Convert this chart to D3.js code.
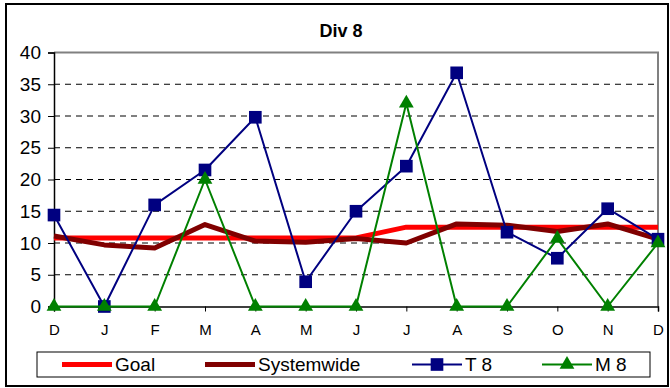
<!DOCTYPE html>
<html>
<head>
<meta charset="utf-8">
<script src="https://cdn.jsdelivr.net/npm/d3@7/dist/d3.min.js"></script>
<style>
  body { margin: 0; background: #fff; }
  svg { display: block; font-family: Arial, "Liberation Sans", sans-serif; }
</style>
</head>
<body>
<svg id="chart" width="670" height="388"></svg>
<script>
(function(){
    // data
    var months = ['D','J','F','M','A','M','J','J','A','S','O','N','D'];
    var yTicks = [0,5,10,15,20,25,30,35,40];
    var goal = [10.8,10.8,10.8,10.8,10.8,10.8,10.8,12.5,12.5,12.5,12.5,12.5,12.5];
    var systemwide = [11.1,9.7,9.2,12.9,10.3,10.1,10.7,10.0,13.0,12.8,11.8,13.0,10.6];
    var t8 = [14.4,0,16.0,21.5,29.8,3.9,15.0,22.1,36.8,11.7,7.6,15.4,10.6];
    var m8 = [0,0,0,20.0,0,0,0,32.0,0,0,10.7,0,10.0];

    var svg = d3.select('#chart');
    var left = 54, right = 658, top = 52.5, bottom = 306.5;

    var x = d3.scalePoint().domain(d3.range(months.length)).range([left, right]);
    var y = d3.scaleLinear().domain([0, 40]).range([bottom, top]);

    // outer chart frame
    svg.append('rect')
        .attr('x', 6).attr('y', 4).attr('width', 662).attr('height', 382)
        .attr('fill', '#fff').attr('stroke', '#000').attr('stroke-width', 2);

    svg.append('text')
        .attr('x', 341).attr('y', 37)
        .attr('text-anchor', 'middle')
        .style('font-size', '18px').style('font-weight', 'bold')
        .text('Div 8');

    // plot area: grey top + right border
    svg.append('path')
        .attr('d', 'M' + left + ',' + top + 'H' + right + 'V' + bottom)
        .attr('fill', 'none').attr('stroke', '#808080').attr('stroke-width', 2);

    // dashed gridlines
    svg.append('g').selectAll('line')
        .data(yTicks.filter(function(d){ return d > 0 && d < 40; }))
        .join('line')
        .attr('x1', left).attr('x2', right)
        .attr('y1', function(d){ return y(d); }).attr('y2', function(d){ return y(d); })
        .attr('stroke', '#000').attr('stroke-width', 1)
        .attr('stroke-dasharray', '6,5');

    // y axis
    var yAxis = svg.append('g')
        .attr('transform', 'translate(' + left + ',0)')
        .call(d3.axisLeft(y).tickValues(yTicks).tickSize(6).tickPadding(7));
    yAxis.select('.domain').attr('stroke', '#000').attr('stroke-width', 1.5);
    yAxis.selectAll('.tick line').attr('stroke', '#000');
    yAxis.selectAll('text').style('font-size', '19px').attr('fill', '#000');

    // x axis
    var xAxis = svg.append('g')
        .attr('transform', 'translate(0,' + bottom + ')')
        .call(d3.axisBottom(x).tickFormat(function(i){ return months[i]; }).tickSize(5).tickPadding(13));
    xAxis.select('.domain').attr('stroke', '#000').attr('stroke-width', 1.5);
    xAxis.selectAll('.tick line').attr('stroke', '#000');
    xAxis.selectAll('text').style('font-size', '15px').attr('fill', '#000');

    var line = d3.line()
        .x(function(d, i){ return x(i); })
        .y(function(d){ return y(d); });

    var series = [
        { name: 'Goal', values: goal, color: '#ff0000', width: 5, marker: null },
        { name: 'Systemwide', values: systemwide, color: '#800000', width: 5, marker: null },
        { name: 'T 8', values: t8, color: '#000080', width: 2, marker: 'square' },
        { name: 'M 8', values: m8, color: '#008000', width: 2, marker: 'triangle' }
    ];

    var squareSym = d3.symbol().type(d3.symbolSquare).size(160);
    var triSym = d3.symbol().type(d3.symbolTriangle).size(95);

    series.forEach(function(s){
        var g = svg.append('g');
        g.append('path')
            .datum(s.values)
            .attr('d', line)
            .attr('fill', 'none')
            .attr('stroke', s.color)
            .attr('stroke-width', s.width)
            .attr('stroke-linejoin', 'round');
        if (s.marker) {
            g.selectAll('path.mk')
                .data(s.values)
                .join('path')
                .attr('class', 'mk')
                .attr('transform', function(d, i){ return 'translate(' + x(i) + ',' + y(d) + ')'; })
                .attr('d', s.marker === 'square' ? squareSym : triSym)
                .attr('fill', s.color);
        }
    });

    // legend
    var legend = svg.append('g');
    legend.append('rect')
        .attr('x', 37).attr('y', 352).attr('width', 613).attr('height', 25)
        .attr('fill', '#fff').attr('stroke', '#000').attr('stroke-width', 1);
    var legX = [62, 205, 412, 542];
    series.forEach(function(s, i){
        var lg = legend.append('g').attr('transform', 'translate(' + legX[i] + ',364.5)');
        lg.append('line')
            .attr('x1', 0).attr('x2', 50).attr('y1', 0).attr('y2', 0)
            .attr('stroke', s.color).attr('stroke-width', s.width);
        if (s.marker) {
            lg.append('path')
                .attr('transform', 'translate(25,0)')
                .attr('d', s.marker === 'square' ? squareSym : triSym)
                .attr('fill', s.color);
        }
        lg.append('text')
            .attr('x', 53).attr('y', 6.5)
            .style('font-size', '19px')
            .text(s.name);
    });
})();
</script>
</body>
</html>
